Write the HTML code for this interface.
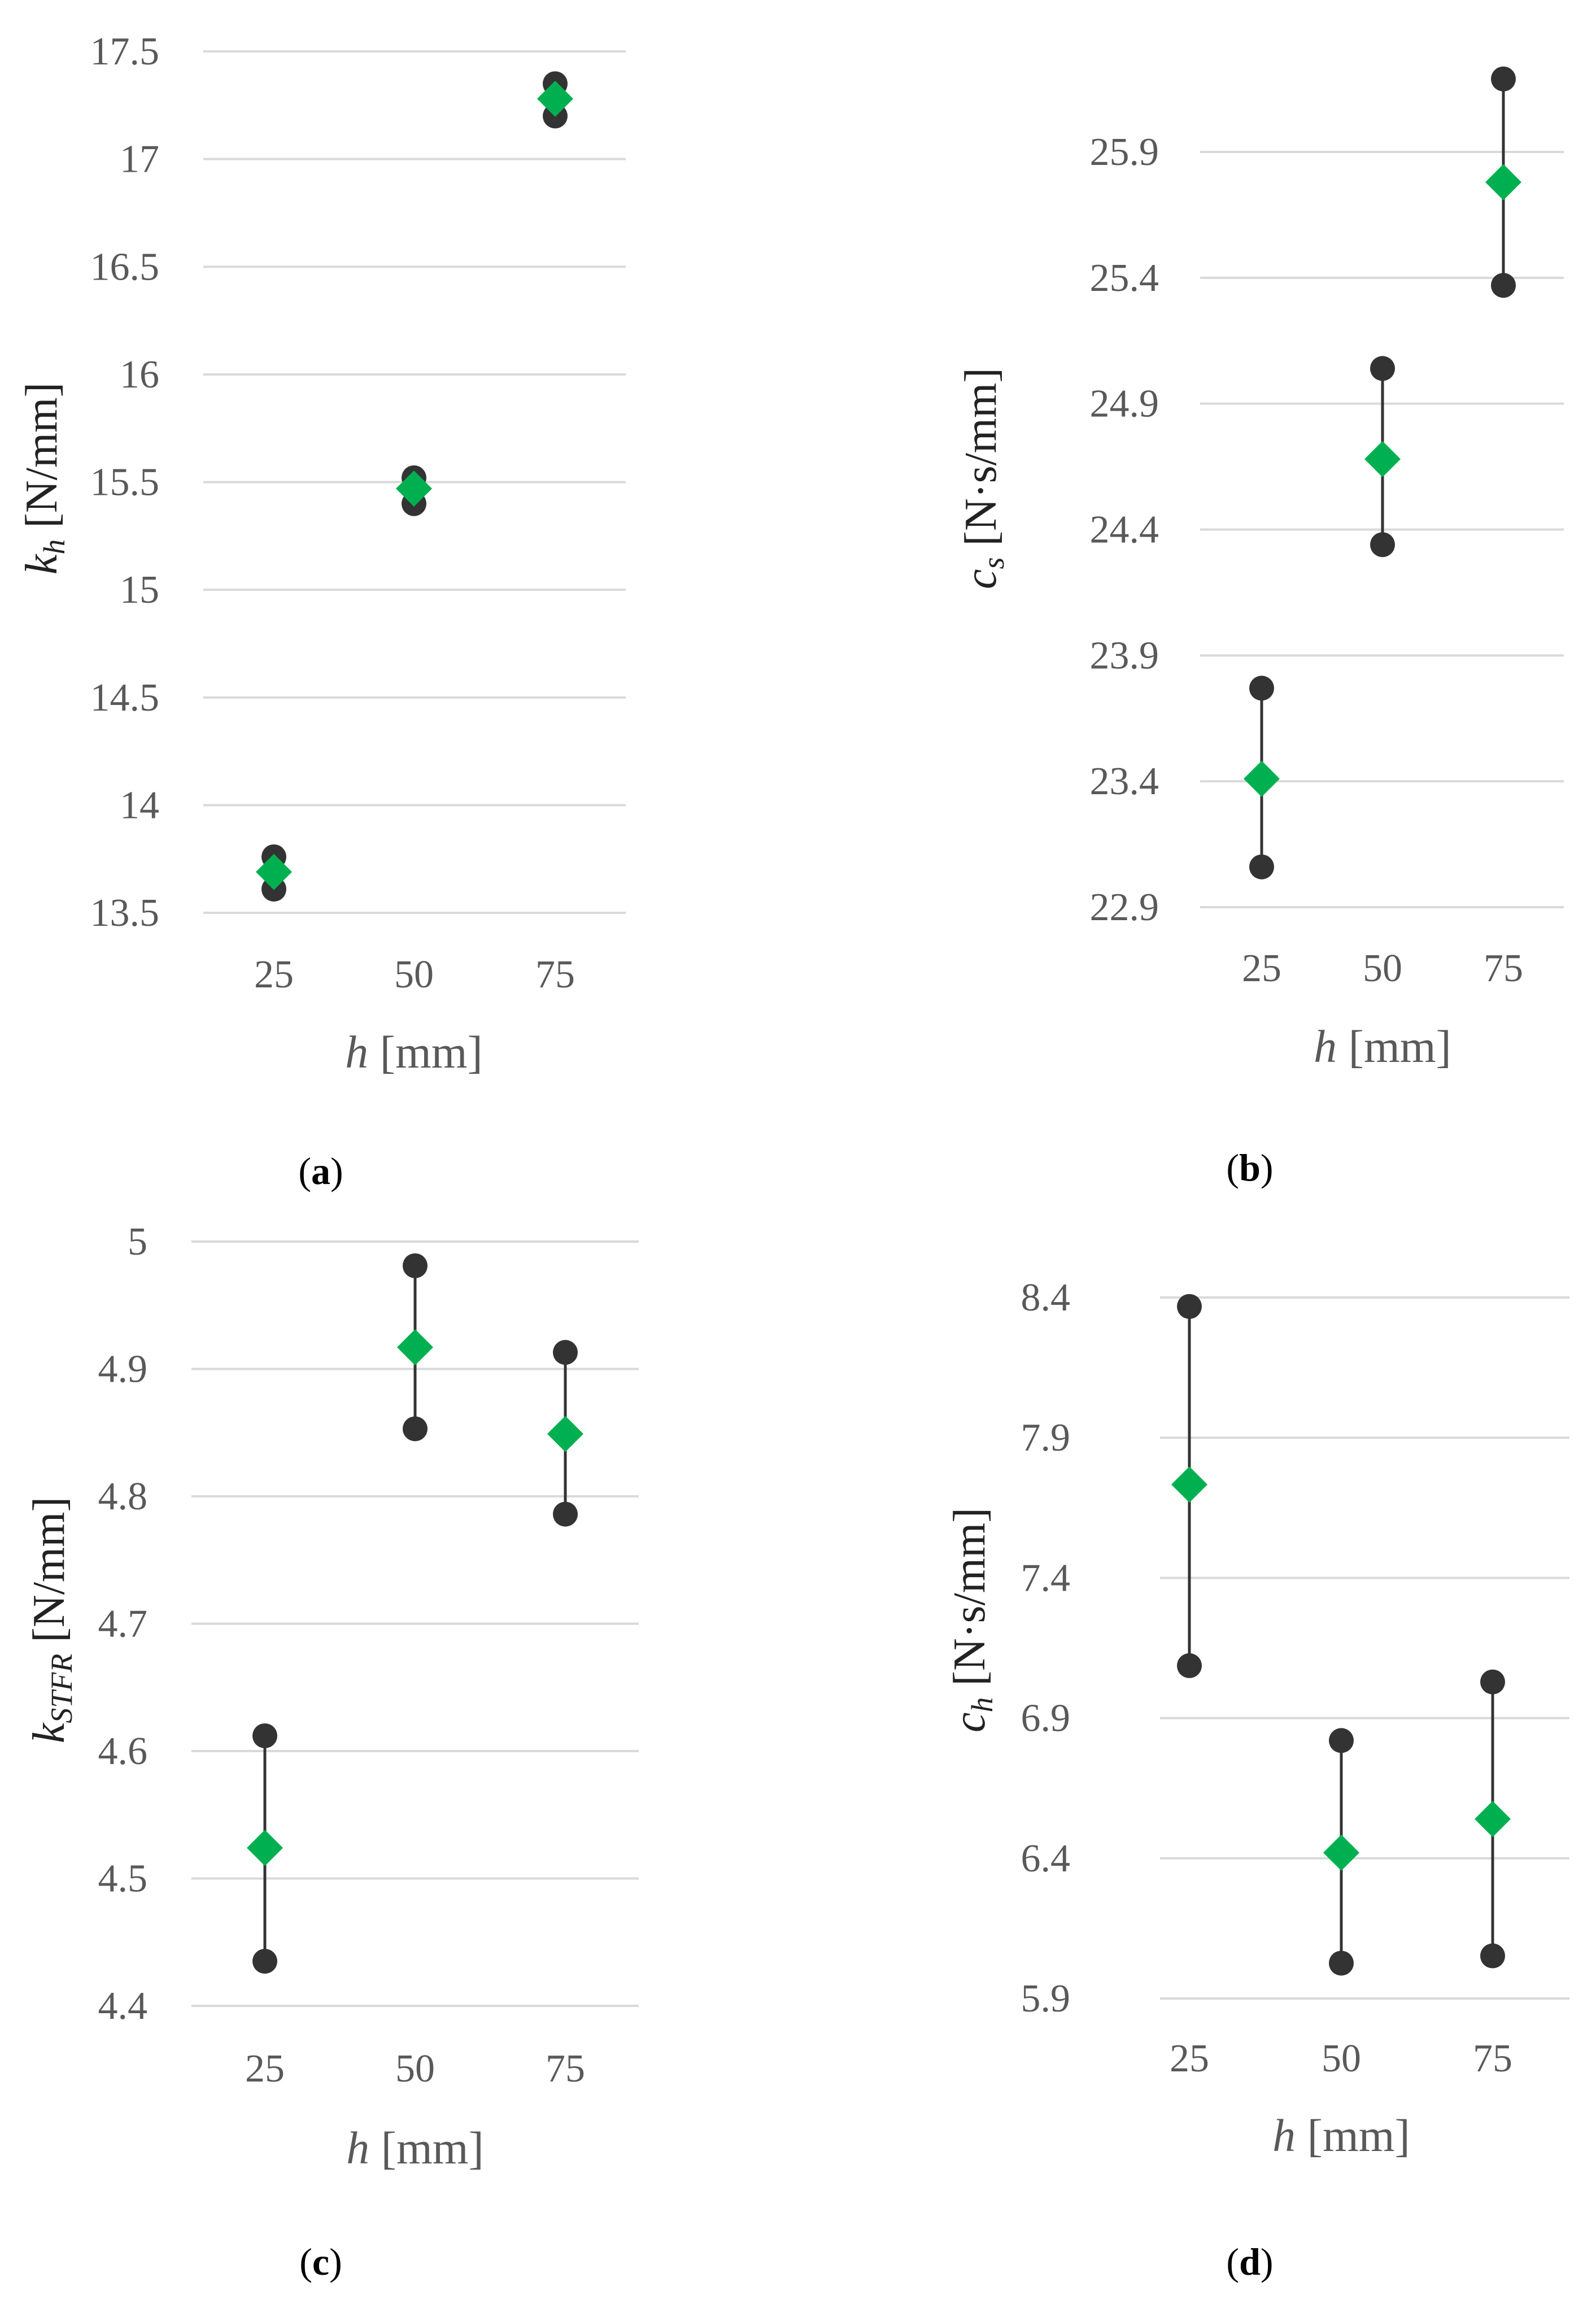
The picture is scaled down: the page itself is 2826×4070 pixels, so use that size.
<!DOCTYPE html>
<html><head><meta charset="utf-8"><style>
html,body{margin:0;padding:0;background:#fff}
svg{display:block}
text{font-family:"Liberation Serif",serif}
</style></head><body>
<svg id="fig" width="2826" height="4070" viewBox="0 0 2826 4070" xmlns="http://www.w3.org/2000/svg"></svg>
<script>
const categories = ["25","50","75"];
const kMax = [13.76, 15.52, 17.35], kMin = [13.61, 15.40, 17.20], kMean = [13.69, 15.47, 17.28];
const kTicks = [13.5,14,14.5,15,15.5,16,16.5,17,17.5];
const csMax = [23.77, 25.04, 26.19], csMin = [23.06, 24.34, 25.37], csMean = [23.41, 24.68, 25.78];
const csTicks = [22.9,23.4,23.9,24.4,24.9,25.4,25.9];
const ksMax = [4.612, 4.981, 4.913], ksMin = [4.435, 4.853, 4.786], ksMean = [4.524, 4.917, 4.849];
const ksTicks = [4.4,4.5,4.6,4.7,4.8,4.9,5];
const chMax = [8.368, 6.82, 7.029], chMin = [7.087, 6.026, 6.052], chMean = [7.733, 6.42, 6.54];
const chTicks = [5.9,6.4,6.9,7.4,7.9,8.4];

const NS = "http://www.w3.org/2000/svg";
const svg = document.getElementById('fig');
function mk(tag, attrs, parent){const e=document.createElementNS(NS,tag);for(const k in attrs)e.setAttribute(k,attrs[k]);(parent||svg).appendChild(e);return e;}

function panel(p){
  const g = mk('g',{});
  
  
  const t0=p.ticks[0], t1=p.ticks[p.ticks.length-1];
  const y = v => p.yBot + (v - t0)/(t1 - t0)*(p.yTop - p.yBot);
  p.ticks.forEach((t,i)=>{
    const gl = mk('line',{x1:p.x0,x2:p.x1,y1:y(t),y2:y(t),stroke:'#d9d9d9','stroke-width':4},g);
    
    
    const tl = mk('text',{x:p.labX,y:y(t)+23,'text-anchor':'end','font-size':70,fill:'#595959'},g);
    
    
    tl.textContent = (p.fmt?t.toFixed(p.fmt):String(t));
  });
  categories.forEach((c,i)=>{
    const cx = p.cx[i];
    const xl = mk('text',{x:cx,y:p.xLabY,'text-anchor':'middle','font-size':70,fill:'#595959'},g);
    
    
    xl.textContent = c;
    const ln = mk('line',{x1:cx,x2:cx,y1:y(p.max[i]),y2:y(p.min[i]),stroke:'#333','stroke-width':5},g);
    
    
    [p.max[i],p.min[i]].forEach(v=>{
      const c1 = mk('circle',{cx:cx,cy:y(v),r:22,fill:'#333'},g);
      
      
    });
    const m = y(p.mean[i]);
    const d = mk('polygon',{points:`${cx-32},${m} ${cx},${m-32} ${cx+32},${m} ${cx},${m+32}`,fill:'#00b050'},g);
    
    
  });
  const xt = mk('text',{x:p.cx[1],y:p.xTitleY,'text-anchor':'middle','font-size':82,fill:'#595959'},g);
  
  
  xt.innerHTML = '<tspan font-style="italic">h</tspan> [mm]';
  const yt = mk('text',{x:0,y:0,'text-anchor':'middle','font-size':80,fill:'#222',transform:`translate(${p.yTitleX},${p.yTitleY}) rotate(-90)`},g);
  
  
  yt.innerHTML = p.ytitle;
  const cap = mk('text',{x:p.capX,y:p.capY,'text-anchor':'middle','font-size':68,fill:'#000'},g);
  
  
  cap.innerHTML = '(<tspan font-weight="bold">'+p.cap+'</tspan>)';
}

panel({name:'chart-kh',ticks:kTicks,fmt:0,max:kMax,min:kMin,mean:kMean,x0:360,x1:1108,yTop:91,yBot:1616,labX:282,cx:[485,733,983],xLabY:1748,xTitleY:1890,yTitleX:100,yTitleY:847,capX:568,capY:2096,cap:'a',
  ytitle:'<tspan font-style="italic">k</tspan><tspan font-style="italic" font-size="54" dy="14">h</tspan><tspan dy="-14"> [N/mm]</tspan>'});
panel({name:'chart-cs',ticks:csTicks,fmt:1,max:csMax,min:csMin,mean:csMean,x0:2125,x1:2769,yTop:269,yBot:1606,labX:2052,cx:[2234,2448,2662],xLabY:1737,xTitleY:1880,yTitleX:1763,yTitleY:847,capX:2213,capY:2090,cap:'b',
  ytitle:'<tspan font-style="italic">c</tspan><tspan font-style="italic" font-size="54" dy="14">s</tspan><tspan dy="-14"> [N·s/mm]</tspan>'});
panel({name:'chart-kstfr',ticks:ksTicks,fmt:1,max:ksMax,min:ksMin,mean:ksMean,x0:339,x1:1131,yTop:2198,yBot:3551,labX:261,cx:[469,735,1001],xLabY:3685,xTitleY:3830,yTitleX:113,yTitleY:2868,capX:568,capY:4027,cap:'c',
  ytitle:'<tspan font-style="italic">k</tspan><tspan font-style="italic" font-size="54" dy="14">STFR</tspan><tspan dy="-14">  [N/mm]</tspan>'});
panel({name:'chart-ch',ticks:chTicks,fmt:1,max:chMax,min:chMin,mean:chMean,x0:2054,x1:2779,yTop:2297,yBot:3538,labX:1895,cx:[2106,2375,2643],xLabY:3667,xTitleY:3808,yTitleX:1743,yTitleY:2868,capX:2213,capY:4027,cap:'d',
  ytitle:'<tspan font-style="italic">c</tspan><tspan font-style="italic" font-size="54" dy="14">h</tspan><tspan dy="-14">  [N·s/mm]</tspan>'});
document.querySelectorAll('text').forEach(t=>{if(t.textContent==='5.0')t.textContent='5';});
</script>
</body></html>
